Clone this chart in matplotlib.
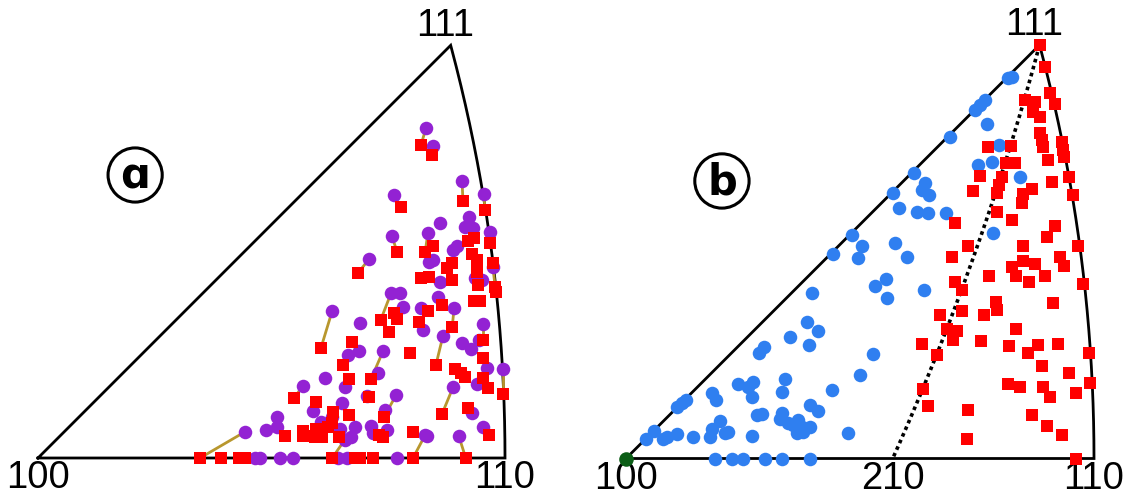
import numpy as np
import matplotlib
matplotlib.use('Agg')
import matplotlib.pyplot as plt
from matplotlib.patches import Circle

# ---------------- data (IPF coordinates, 100->110 distance = 1) ----------------
# panel (a): linked pairs, circle (before) -> square (after)
a_link_circ_x = [.831, .846, .908, .955, .762, .758, .835, .709, .968, .974, .756, .891, .953, .867,
                 .739, .996, .889, .767, .829, .901, .630, .567, .443, .657, .651, .953, .857]
a_link_circ_y = [.707, .668, .593, .565, .563, .475, .482, .426, .484, .409, .353, .321, .287, .261,
                 .229, .191, .152, .135, .049, .047, .315, .154, .056, .039, .118, .066, .345]
a_link_sq_x = [.820, .844, .910, .957, .777, .769, .829, .685, .968, .979, .734, .887, .953, .852,
               .713, .996, .865, .741, .803, .916, .606, .548, .347, .630, .632, .966, .865]
a_link_sq_y = [.670, .649, .550, .531, .537, .441, .441, .396, .460, .366, .296, .281, .253, .199,
               .169, .137, .094, .088, 0.0, 0.0, .236, .128, 0.0, 0.0, .099, .049, .328]

# panel (a): other circles
a_circ_x = [.861, .923, .914, .931, .897, .889, .846, .837, .936, .951, .861, .775, .782, .820, .824,
            .690, .908, .927, .944, .664, .687, .961, .940, .728, .657, .704, .743, .929, .679, .713,
            .747, .717, .833, .769, .662, .670, .615, .589, .512, .606, .630, .488, .512, .647, .465,
            .475, .518, .546, .642]
a_circ_y = [.503, .516, .495, .493, .454, .445, .424, .420, .385, .381, .377, .353, .323, .321, .274,
            .289, .246, .233, .253, .221, .229, .193, .158, .182, .152, .133, .103, .096, .066, .069,
            .060, .054, .047, 0.0, 0.0, .045, .171, .101, .088, .077, .088, .060, .066, .062, 0.0,
            0.0, 0.0, 0.0, 0.0]

# panel (a): other squares
a_sq_x = [.921, .934, .846, .929, .940, .887, .876, .974, .940, .820, .837, .887, .942, .981, .934,
          .946, .835, .762, .769, .816, .752, .672, .797, .953, .653, .893, .906, .914, .953, .964,
          .666, .709, .921, .666, .730, .739, .803, .717, .690, .679, .595, .630, .621, .529, .567,
          .567, .595, .593, .608, .582, .645, .392, .430, .443]
a_sq_y = [.465, .471, .454, .437, .424, .418, .407, .418, .398, .385, .388, .381, .370, .355, .336,
          .336, .315, .310, .298, .291, .270, .248, .225, .214, .199, .191, .182, .173, .171, .150,
          .169, .131, .107, .092, .049, .045, .056, 0.0, 0.0, 0.0, .120, .075, .066, .047, .058,
          .047, .062, .045, .045, .047, .045, 0.0, 0.0, 0.0]

# panel (b): blue circles
b_blue_x = [.397, .387, .411, .350, .390, .295, .285, .500, .240, .271, .261, .269, .340, .333, .440,
            .183, .192, .128, .119, .108, .393, .411, .279, .290, .333, .329, .201, .368, .356, .375,
            .393, .365, .378, .347, .183, .179, .212, .219, .060, .043, .108, .087, .080, .143, .269,
            .475, .190, .226, .251, .297, .333, .393,
            .817, .824, .746, .756, .767, .771, .692, .796, .753, .781, .615, .842, .639, .632, .648,
            .571, .584, .621, .646, .684, .482, .504, .575, .785, .496, .600, .532, .556, .558, .637,
            .528, .442]
b_blue_y = [.354, .291, .273, .260, .243, .239, .226, .178, .159, .164, .153, .132, .169, .143, .146,
            .139, .126, .126, .118, .109, .114, .102, .093, .095, .097, .084, .081, .082, .072, .068,
            .068, .054, .057, .075, .062, .047, .054, .057, .059, .041, .052, .045, .041, .047, .048,
            .055, 0.0, 0.0, 0.0, 0.0, 0.0, 0.0,
            .812, .816, .745, .755, .765, .714, .688, .670, .627, .634, .611, .602, .588, .574, .563,
            .568, .535, .527, .525, .524, .478, .453, .460, .481, .428, .431, .369, .383, .342, .360,
            .223, .437]

# panel (b): red squares
b_red_x = [.884, .895, .853, .874, .870, .885, .906, .917, .885, .888, .890, .931, .934, .936, .774,
           .822, .813, .831, .902, .756, .803, .798, .910, .947, .742, .792, .867, .849, .846, .956,
           .793, .824, .703, .917, .899, .731, .848, .966,
           .696, .824, .848, .874, .833, .862, .895, .927, .936, .776, .703, .717, .976, .913, .791,
           .793, .719, .765, .671, .685, .707, .698, .833, .632, .758, .819, .860, .881, .924, .990,
           .665, .888, .947, .817, .842, .890, .907, .991, .962, .634, .646, .731, .867, .900, .931,
           .728, .962]
b_red_y = [.884, .837, .766, .762, .741, .729, .780, .757, .695, .681, .666, .677, .659, .645, .665,
           .668, .632, .632, .638, .604, .602, .584, .591, .602, .572, .567, .575, .565, .545, .563,
           .527, .510, .504, .497, .474, .453, .453, .454,
           .430, .410, .421, .416, .390, .378, .390, .430, .411, .390, .378, .360, .373, .333, .335,
           .317, .316, .307, .307, .276, .273, .253, .276, .245, .252, .240, .225, .243, .245, .225,
           .221, .198, .183, .159, .153, .152, .131, .161, .141, .148, .113, .104, .093, .069, .050,
           .041, 0.0]

# pole labels
poles = {'100': (1, 0, 0), '110': (1, 1, 0), '111': (1, 1, 1), '210': (2, 1, 0)}

# ---------------- style ----------------
PURPLE = '#9322d3'
RED = '#ff0000'
GOLD = '#b8972e'
BLUE = '#2f7ff0'
GREEN = '#0b5d16'
FONT = 'Liberation Sans'
LABEL_SIZE = 27.5

W, H = 1126, 499
fig = plt.figure(figsize=(W / 100, H / 100), dpi=100)

S = np.sqrt(2) - 1


def proj(v):
    v = np.asarray(v, float)
    v = v / np.linalg.norm(v, axis=-1, keepdims=True)
    X = v[..., 1] / (1 + v[..., 0])
    Y = v[..., 2] / (1 + v[..., 0])
    return X / S, Y / S


def great_circle(u, v, n=200):
    u = np.asarray(u, float); v = np.asarray(v, float)
    u = u / np.linalg.norm(u); v = v / np.linalg.norm(v)
    om = np.arccos(np.clip(np.dot(u, v), -1, 1))
    t = np.linspace(0, 1, n)[:, None]
    pts = (np.sin((1 - t) * om) * u + np.sin(t * om) * v) / np.sin(om)
    return proj(pts)


def make_ax(x0px, base_px, scale, xmin, xmax, ymin=-0.085, ymax=0.98):
    left = (x0px + xmin * scale) / W
    width = (xmax - xmin) * scale / W
    bottom = ((H - base_px) + ymin * scale) / H
    height = (ymax - ymin) * scale / H
    ax = fig.add_axes([left, bottom, width, height])
    ax.set_xlim(xmin, xmax)
    ax.set_ylim(ymin, ymax)
    ax.axis('off')
    return ax


def draw_triangle(ax):
    xs, ys = [], []
    for a, b in [('100', '110'), ('110', '111'), ('111', '100')]:
        x, y = great_circle(poles[a], poles[b])
        xs.append(x); ys.append(y)
    ax.plot(np.concatenate(xs), np.concatenate(ys), color='black', lw=2.0,
            solid_joinstyle='miter', zorder=1, clip_on=False)


def pole_labels(ax, names, dy_bottom=-0.043, dy_top=0.926):
    for nm in names:
        x, y = proj(poles[nm])
        if nm == '111':
            ax.text(float(x) - 0.012, dy_top, nm, ha='center', va='center', fontsize=LABEL_SIZE,
                    family=FONT, clip_on=False)
        else:
            ax.text(float(x), dy_bottom, nm, ha='center', va='center', fontsize=LABEL_SIZE,
                    family=FONT, clip_on=False)


def circled(ax, cx, cy, letter):
    ax.add_patch(Circle((cx, cy), 0.058, fill=False, lw=2.2, ec='black', zorder=5, clip_on=False))
    ax.text(cx, cy - 0.004, letter, ha='center', va='center', fontsize=30, fontweight='bold',
            family='DejaVu Sans', zorder=6)


# ---------------- panel (a) ----------------
axa = make_ax(38, 458, 467, -0.08, 1.12)
draw_triangle(axa)
for cx, cy, sx, sy in zip(a_link_circ_x, a_link_circ_y, a_link_sq_x, a_link_sq_y):
    axa.plot([cx, sx], [cy, sy], color=GOLD, lw=2.0, zorder=2, clip_on=False)
axa.scatter(a_link_circ_x + a_circ_x, a_link_circ_y + a_circ_y, s=95, marker='o',
            color=PURPLE, linewidths=0, zorder=3, clip_on=False)
axa.scatter(a_link_sq_x + a_sq_x, a_link_sq_y + a_sq_y, s=64, marker='s',
            color=RED, linewidths=0, zorder=4, clip_on=False)
pole_labels(axa, ['100', '110', '111'])
circled(axa, 0.208, 0.606, '\u0251')

# ---------------- panel (b) ----------------
axb = make_ax(626, 458.5, 468, -0.08, 1.07)
draw_triangle(axb)
gx, gy = great_circle(poles['111'], poles['210'])
axb.plot(gx, gy, color='black', lw=2.6, linestyle=(0, (1, 1)), zorder=2, clip_on=False)
axb.scatter(b_blue_x, b_blue_y, s=95, marker='o', color=BLUE, linewidths=0, zorder=3,
            clip_on=False)
axb.scatter(b_red_x, b_red_y, s=85, marker='s', color=RED, linewidths=0, zorder=4,
            clip_on=False)
x100, y100 = proj(poles['100'])
axb.scatter([float(x100)], [float(y100)], s=110, marker='o', color=GREEN, linewidths=0,
            zorder=5, clip_on=False)
pole_labels(axb, ['100', '210', '110', '111'])
circled(axb, 0.205, 0.593, 'b')

fig.savefig('out.png', dpi=100)
